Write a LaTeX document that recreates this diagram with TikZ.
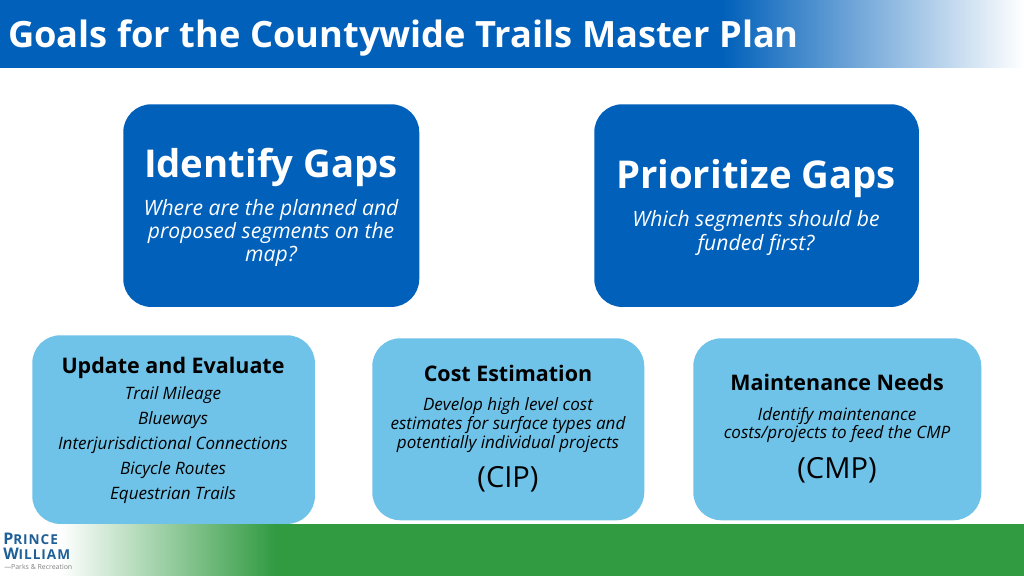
\documentclass[tikz,border=0pt]{standalone}
\usepackage{fontspec}
\setmainfont{Open Sans}
\definecolor{pwblue}{HTML}{0060BA}
\definecolor{pwsky}{HTML}{70C3E8}
\definecolor{pwgreen}{HTML}{319B42}
\definecolor{pwlogo}{HTML}{1D5F96}
\tikzset{
  bigbox/.style={rounded corners=21pt,fill=pwblue,anchor=north west,inner sep=0pt},
  smallbox/.style={rounded corners=21pt,fill=pwsky,anchor=north west,inner sep=0pt},
  bighead/.style={text=white,font=\bfseries\fontsize{28.75}{30}\selectfont},
  bigtext/.style={text=white,font=\itshape\fontsize{15.85}{17.3}\selectfont,align=center},
  smallhead/.style={text=black,font=\bfseries\fontsize{16.1}{18}\selectfont},
  smalltext/.style={text=black,font=\itshape\fontsize{12.8}{14}\selectfont,align=center},
  planlabel/.style={text=black,font=\fontsize{21.8}{24}\selectfont},
  logotext/.style={anchor=west,inner sep=0pt,text=pwlogo,font=\bfseries\fontsize{12}{10}\selectfont\addfontfeature{LetterSpace=7}}
}
\begin{document}
\begin{tikzpicture}[x=0.75pt,y=-0.75pt]
\useasboundingbox[fill=white] (0,0) rectangle (1024,576);

\fill[pwblue] (0,0) rectangle (722,68);
\shade[left color=pwblue,right color=white] (722,0) rectangle (1024,67.5);
\node[anchor=west,text=white,font=\bfseries\fontsize{27.2}{30}\selectfont,inner sep=0pt] (title) at (8,38) {Goals for the Countywide Trails Master Plan};

\fill[pwgreen] (275,524) rectangle (1024,576);
\shade[left color=white,right color=pwgreen] (60,524.5) rectangle (275,575.5);

\node[bigbox,minimum width=222pt,minimum height=152pt] (gaps) at (123,104) {};
\node[bigbox,minimum width=243.5pt,minimum height=152pt] (prio) at (594,104) {};
\node[smallbox,minimum width=212pt,minimum height=141.5pt] (update) at (32,335) {};
\node[smallbox,minimum width=204pt,minimum height=136.5pt] (cost) at (372,338) {};
\node[smallbox,minimum width=216pt,minimum height=136.5pt] (maint) at (693,338) {};

\node[bighead] (gapshead) at (271,167) {Identify Gaps};
\node[bigtext] (gapstext) at (271,233) {Where are the planned and\\proposed segments on the\\map?};

\node[bighead] (priohead) at (756,179) {Prioritize Gaps};
\node[bigtext] (priotext) at (756,233) {Which segments should be\\funded first?};

\node[smallhead] (updatehead) at (173,368) {Update and Evaluate};
\node[smalltext] (mileage) at (173,395) {Trail Mileage};
\node[smalltext] (blueways) at (173,420) {Blueways};
\node[smalltext] (connect) at (173,445) {Interjurisdictional Connections};
\node[smalltext] (bicycle) at (173,470) {Bicycle Routes};
\node[smalltext] (equest) at (173,495) {Equestrian Trails};

\node[smallhead] (costhead) at (508,373) {Cost Estimation};
\node[smalltext] (costtext) at (508,425) {Develop high level cost\\estimates for surface types and\\potentially individual projects};
\node[planlabel] (cip) at (508,479) {(CIP)};

\node[smallhead] (mainthead) at (837,382) {Maintenance Needs};
\node[smalltext] (mainttext) at (837,425) {Identify maintenance\\costs/projects to feed the CMP};
\node[planlabel] (cmp) at (837,470) {(CMP)};

\node[logotext] (prince) at (3,538.5) {P\fontsize{10.2}{10}\selectfont RINCE};
\node[logotext] (william) at (3,554) {W\fontsize{10.2}{10}\selectfont ILLIAM};
\node[anchor=west,inner sep=0pt,text=gray,font=\fontsize{5.2}{5}\selectfont] (parks) at (4,566.5) {—Parks \& Recreation};
\end{tikzpicture}
\end{document}
